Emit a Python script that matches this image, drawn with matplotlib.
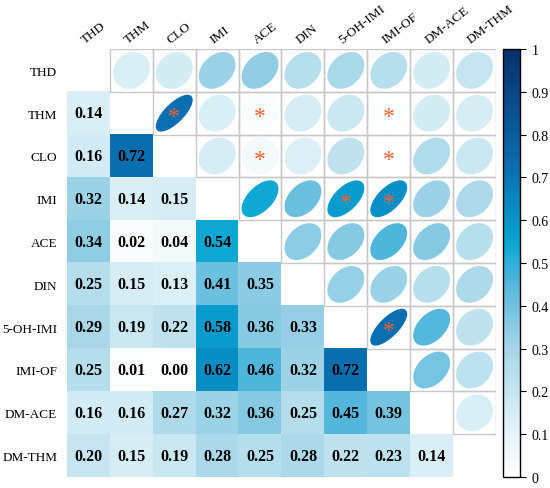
import numpy as np
import matplotlib
matplotlib.use("Agg")
import matplotlib.pyplot as plt
from matplotlib.colors import LinearSegmentedColormap
from matplotlib.patches import Polygon, Rectangle

labels = ["THD", "THM", "CLO", "IMI", "ACE", "DIN", "5-OH-IMI", "IMI-OF", "DM-ACE", "DM-THM"]

# lower triangle, row by row (row i has i values)
r_thm = [0.14]
r_clo = [0.16, 0.72]
r_imi = [0.32, 0.14, 0.15]
r_ace = [0.34, 0.02, 0.04, 0.54]
r_din = [0.25, 0.15, 0.13, 0.41, 0.35]
r_5oh = [0.29, 0.19, 0.22, 0.58, 0.36, 0.33]
r_imiof = [0.25, 0.01, 0.00, 0.62, 0.46, 0.32, 0.72]
r_dmace = [0.16, 0.16, 0.27, 0.32, 0.36, 0.25, 0.45, 0.39]
r_dmthm = [0.20, 0.15, 0.19, 0.28, 0.25, 0.28, 0.22, 0.23, 0.14]
lower_rows = [[], r_thm, r_clo, r_imi, r_ace, r_din, r_5oh, r_imiof, r_dmace, r_dmthm]

# pairs marked with an asterisk (row, col) in the upper triangle
signif = [(1, 2), (1, 4), (1, 7), (2, 4), (2, 7), (3, 6), (3, 7), (6, 7)]

n = len(labels)
corr = np.full((n, n), np.nan)
for i, row in enumerate(lower_rows):
    for j, v in enumerate(row):
        corr[i, j] = v
        corr[j, i] = v

cmap = LinearSegmentedColormap.from_list(
    "cb", [(0, "#ffffff"), (0.15, "#d6edf5"), (0.3, "#a6d6e8"), (0.45, "#55b7dc"),
           (0.55, "#08a5d3"), (0.72, "#0a6fb1"), (1, "#08306b")])

plt.rcParams["font.family"] = ["Liberation Serif", "DejaVu Serif"]
fig = plt.figure(figsize=(5.5, 4.89), dpi=100)
ax = fig.add_axes([0.1218, 0.0225, 0.78, 0.8753])
cax = fig.add_axes([0.9145, 0.0225, 0.0318, 0.8753])

lower = np.where(np.tril(np.ones((n, n)), -1) > 0, corr, np.nan)
im = ax.imshow(lower, cmap=cmap, vmin=0, vmax=1, aspect="auto")

for i in range(n):
    for j in range(i):
        ax.text(j, i, f"{corr[i, j]:.2f}", ha="center", va="center",
                fontsize=11.5, fontweight="bold", color="black")

t = np.linspace(0, 2 * np.pi, 120)
s = 0.43
for i in range(n):
    for j in range(i + 1, n):
        r = corr[i, j]
        d = np.arccos(r)
        xs = j + s * np.cos(t + d / 2)
        ys = i - s * np.cos(t - d / 2)
        ax.add_patch(Polygon(np.column_stack([xs, ys]), closed=True,
                             facecolor=cmap(r), edgecolor="none"))
        ax.add_patch(Rectangle((j - 0.5, i - 0.5), 1, 1, facecolor="none",
                               edgecolor="#c8c8c8", lw=1.0))
        if (i, j) in signif:
            ax.text(j, i + 0.08, "*", ha="center", va="center",
                    fontsize=17, color="#f5612a")

ax.set_xlim(-0.5, n - 0.5)
ax.set_ylim(n - 0.5, -0.5)
ax.set_xticks([])
ax.set_yticks(range(n))
ax.set_yticklabels(labels, fontsize=9.5)
ax.tick_params(axis="y", length=0, pad=7)
for sp in ax.spines.values():
    sp.set_visible(False)

for j, lab in enumerate(labels):
    ax.text(j - 0.08, -0.63, lab, rotation=38, rotation_mode="anchor",
            ha="left", va="baseline", fontsize=9.5)

cb = fig.colorbar(im, cax=cax)
cb.set_ticks(np.arange(0, 1.01, 0.1))
cb.set_ticklabels(["0", "0.1", "0.2", "0.3", "0.4", "0.5", "0.6", "0.7", "0.8", "0.9", "1"])
cb.ax.tick_params(labelsize=10, length=4, width=0.8, pad=4)
cb.outline.set_linewidth(1.0)

fig.savefig("out.png", dpi=100)
